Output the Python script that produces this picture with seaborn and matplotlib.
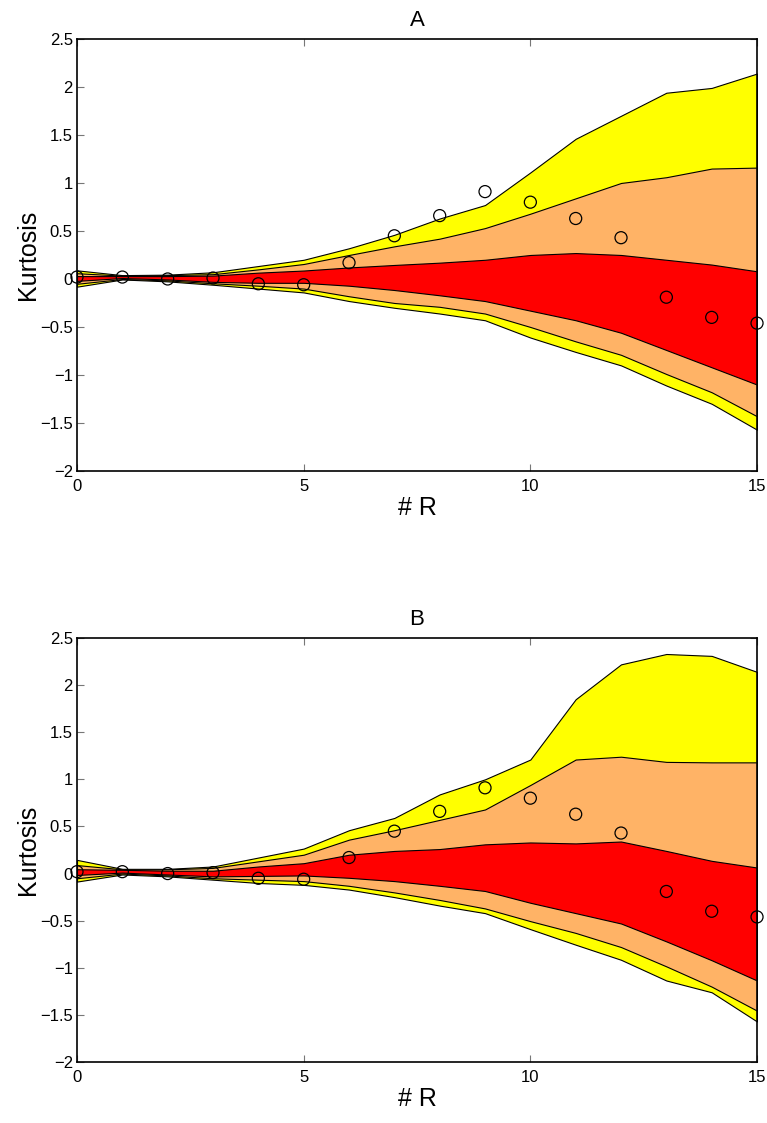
import numpy as np
import pandas as pd
import matplotlib
matplotlib.use('Agg')
import matplotlib.pyplot as plt
import seaborn as sns

sns.set_style('white')
plt.rcParams['font.family'] = ['Liberation Sans', 'DejaVu Sans']
plt.rcParams['axes.unicode_minus'] = True
plt.rcParams['text.color'] = 'black'
plt.rcParams['axes.labelcolor'] = 'black'
plt.rcParams['xtick.color'] = 'black'
plt.rcParams['ytick.color'] = 'black'

# numero de R
x = list(range(16))

# valores observados (circulos), iguales en los dos paneles
obs = [0.02, 0.02, 0.0, 0.01, -0.05, -0.06, 0.17, 0.45, 0.66, 0.91, 0.80, 0.63, 0.43, -0.19, -0.40, -0.46]

# panel A: bandas (amarillo exterior, naranja, rojo interior)
a_y_hi = [0.09, 0.04, 0.045, 0.07, 0.135, 0.20, 0.32, 0.46, 0.63, 0.77, 1.11, 1.46, 1.70, 1.94, 1.99, 2.14]
a_o_hi = [0.06, 0.035, 0.04, 0.05, 0.10, 0.156, 0.25, 0.34, 0.42, 0.53, 0.68, 0.84, 1.0, 1.06, 1.15, 1.16]
a_r_hi = [0.03, 0.03, 0.03, 0.035, 0.066, 0.088, 0.12, 0.146, 0.17, 0.20, 0.25, 0.27, 0.25, 0.20, 0.15, 0.08]
a_r_lo = [-0.02, 0.01, -0.005, -0.03, -0.04, -0.04, -0.07, -0.115, -0.17, -0.23, -0.33, -0.43, -0.56, -0.74, -0.92, -1.10]
a_o_lo = [-0.05, 0.0, -0.015, -0.045, -0.07, -0.10, -0.18, -0.25, -0.29, -0.36, -0.50, -0.65, -0.79, -0.99, -1.18, -1.43]
a_y_lo = [-0.08, -0.005, -0.025, -0.06, -0.10, -0.14, -0.23, -0.30, -0.36, -0.43, -0.61, -0.76, -0.90, -1.11, -1.30, -1.57]

# panel B
b_y_hi = [0.145, 0.05, 0.05, 0.075, 0.17, 0.265, 0.46, 0.59, 0.84, 1.0, 1.21, 1.85, 2.22, 2.33, 2.31, 2.14]
b_o_hi = [0.09, 0.045, 0.045, 0.06, 0.13, 0.20, 0.36, 0.46, 0.57, 0.68, 0.94, 1.21, 1.24, 1.185, 1.18, 1.18]
b_r_hi = [0.046, 0.04, 0.03, 0.03, 0.075, 0.11, 0.20, 0.24, 0.26, 0.31, 0.33, 0.32, 0.34, 0.24, 0.135, 0.064]
b_r_lo = [-0.015, 0.01, -0.01, -0.03, -0.025, -0.02, -0.045, -0.08, -0.13, -0.185, -0.31, -0.42, -0.53, -0.72, -0.92, -1.135]
b_o_lo = [-0.05, 0.0, -0.02, -0.05, -0.065, -0.08, -0.13, -0.20, -0.28, -0.37, -0.505, -0.63, -0.78, -0.985, -1.2, -1.455]
b_y_lo = [-0.085, -0.01, -0.03, -0.065, -0.10, -0.12, -0.17, -0.25, -0.34, -0.42, -0.59, -0.755, -0.915, -1.135, -1.26, -1.57]

y_ticks = [-2, -1.5, -1, -0.5, 0, 0.5, 1, 1.5, 2, 2.5]
y_labels = ['\u22122', '\u22121.5', '\u22121', '\u22120.5', '0', '0.5', '1', '1.5', '2', '2.5']
x_ticks = [0, 5, 10, 15]

colores = ['#FFFF00', '#FFB366', '#FF0000']


def dibujar_panel(ax, bandas, titulo):
    # cada banda se rellena y se bordea en negro
    for (lo, hi), c in zip(bandas, colores):
        ax.fill_between(x, lo, hi, facecolor=c, edgecolor='black', linewidth=0.8, zorder=2)
    df = pd.DataFrame({'R': x, 'K': obs})
    sns.scatterplot(data=df, x='R', y='K', ax=ax, marker='o', s=75,
                    facecolor='none', edgecolor='black', linewidth=0.9, zorder=4, clip_on=False)
    ax.set_xlim(0, 15)
    ax.set_ylim(-2, 2.5)
    ax.set_xticks(x_ticks)
    ax.set_yticks(y_ticks)
    ax.set_yticklabels(y_labels)
    ax.tick_params(direction='in', length=5, width=0.8, labelsize=12, top=True, right=True,
                   bottom=True, left=True)
    ax.tick_params(axis='x', pad=6, color='#777777')
    ax.tick_params(axis='y', pad=3, color='#777777')
    for s in ax.spines.values():
        s.set_visible(True)
        s.set_color('black')
        s.set_linewidth(1.2)
    ax.set_xlabel('# R', fontsize=18, labelpad=1)
    ax.set_ylabel('Kurtosis', fontsize=18, labelpad=0)
    ax.set_title(titulo, fontsize=16, pad=9)


fig = plt.figure(figsize=(7.67, 11.23), dpi=100)
ax_a = fig.add_axes([0.1004, 0.5806, 0.8866, 0.3847])
ax_b = fig.add_axes([0.1004, 0.0543, 0.8866, 0.3776])

dibujar_panel(ax_a, [(a_y_lo, a_y_hi), (a_o_lo, a_o_hi), (a_r_lo, a_r_hi)], 'A')
dibujar_panel(ax_b, [(b_y_lo, b_y_hi), (b_o_lo, b_o_hi), (b_r_lo, b_r_hi)], 'B')

fig.savefig('out.png', dpi=100)
